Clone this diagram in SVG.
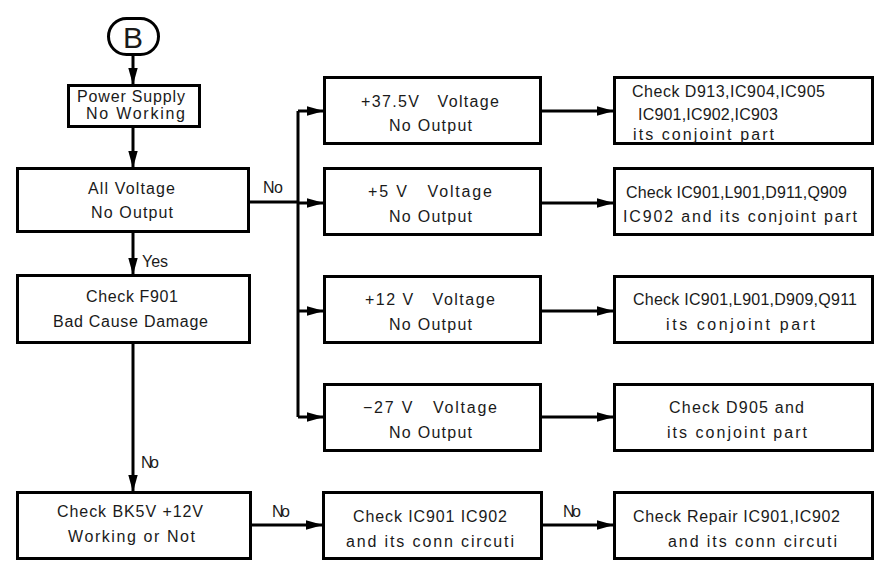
<svg xmlns="http://www.w3.org/2000/svg" width="891" height="563" viewBox="0 0 891 563">
<style>
.bx{fill:#fff;stroke:#000;stroke-width:3}
.ln{fill:none;stroke:#000;stroke-width:3}
.ar{fill:none;stroke:#000;stroke-width:3;marker-end:url(#ah)}
text{font-family:"Liberation Sans",Arial,sans-serif;font-size:16px;fill:#1a1a1a;white-space:pre}
.lg{font-size:30px}
</style>
<defs>
<marker id="ah" markerUnits="userSpaceOnUse" markerWidth="18" markerHeight="10" refX="17" refY="5" orient="auto">
<path d="M0,0.3 L17,5 L0,9.7 z" fill="#000"/>
</marker>
</defs>
<rect width="891" height="563" fill="#fff"/>
<g id="connectors">
<path class="ar" d="M133,55 V85"/>
<path class="ar" d="M133,127 V168"/>
<path class="ar" d="M133,232 V275"/>
<path class="ar" d="M133,343 V492"/>
<path class="ln" d="M249,202 H298"/>
<path class="ln" d="M298,111 V417"/>
<path class="ar" d="M298,111 H324"/>
<path class="ar" d="M298,203 H324"/>
<path class="ar" d="M298,311 H324"/>
<path class="ar" d="M298,417 H324"/>
<path class="ar" d="M541,111 H614"/>
<path class="ar" d="M541,203 H614"/>
<path class="ar" d="M541,311 H614"/>
<path class="ar" d="M541,417 H614"/>
<path class="ar" d="M250,525 H323"/>
<path class="ar" d="M542,525 H614"/>
<text x="142" y="267" textLength="26">Yes</text>
<text x="263" y="193" textLength="20">No</text>
<text x="141" y="468" textLength="18">No</text>
<text x="272" y="517" textLength="18">No</text>
<text x="563" y="517" textLength="18">No</text>
</g>
<g id="nodeB">
<rect class="bx" x="108.5" y="18.5" width="50" height="36" rx="18" ry="18"/>
<text class="lg" x="133" y="48" text-anchor="middle">B</text>
</g>
<g id="power">
<rect class="bx" x="68.5" y="85.5" width="131" height="41"/>
<text x="77" y="102" textLength="108">Power Supply</text>
<text x="86" y="119" textLength="99">No Working</text>
</g>
<g id="allv">
<rect class="bx" x="17.5" y="168.5" width="231" height="63"/>
<text x="88" y="194" textLength="87">All Voltage</text>
<text x="91" y="218" textLength="82">No Output</text>
</g>
<g id="f901">
<rect class="bx" x="17.5" y="275.5" width="232" height="67"/>
<text x="86" y="302" textLength="92">Check F901</text>
<text x="53" y="327" textLength="155">Bad Cause Damage</text>
</g>
<g id="bk5v">
<rect class="bx" x="17.5" y="492.5" width="233" height="66"/>
<text x="57" y="517" textLength="146">Check BK5V +12V</text>
<text x="68" y="542" textLength="127">Working or Not</text>
</g>
<g id="v375">
<rect class="bx" x="324.5" y="77.5" width="216" height="66"/>
<text x="361" y="107" textLength="138">+37.5V   Voltage</text>
<text x="389" y="131" textLength="83">No Output</text>
</g>
<g id="v5">
<rect class="bx" x="324.5" y="168.5" width="216" height="66"/>
<text x="368" y="197" textLength="124">+5 V   Voltage</text>
<text x="389" y="222" textLength="83">No Output</text>
</g>
<g id="v12">
<rect class="bx" x="324.5" y="276.5" width="216" height="66"/>
<text x="365" y="305" textLength="130">+12 V   Voltage</text>
<text x="389" y="330" textLength="83">No Output</text>
</g>
<g id="v27">
<rect class="bx" x="324.5" y="384.5" width="216" height="66"/>
<text x="363" y="413" textLength="134">−27 V   Voltage</text>
<text x="389" y="438" textLength="83">No Output</text>
</g>
<g id="ic901">
<rect class="bx" x="323.5" y="492.5" width="218" height="66"/>
<text x="353" y="522" textLength="154">Check IC901 IC902</text>
<text x="346" y="547" textLength="168">and its conn circuti</text>
</g>
<g id="chk375">
<rect class="bx" x="614.5" y="77.5" width="258" height="66"/>
<text x="632" y="97" textLength="193">Check D913,IC904,IC905</text>
<text x="638" y="120" textLength="140">IC901,IC902,IC903</text>
<text x="633" y="140" textLength="141">its conjoint part</text>
</g>
<g id="chk5">
<rect class="bx" x="614.5" y="168.5" width="258" height="66"/>
<text x="626" y="198" textLength="221">Check IC901,L901,D911,Q909</text>
<text x="623" y="222" textLength="234">IC902 and its conjoint part</text>
</g>
<g id="chk12">
<rect class="bx" x="614.5" y="276.5" width="258" height="66"/>
<text x="633" y="305" textLength="224">Check IC901,L901,D909,Q911</text>
<text x="666" y="330" textLength="149">its conjoint part</text>
</g>
<g id="chk27">
<rect class="bx" x="614.5" y="384.5" width="258" height="66"/>
<text x="669" y="413" textLength="135">Check D905 and</text>
<text x="667" y="438" textLength="140">its conjoint part</text>
</g>
<g id="repair">
<rect class="bx" x="614.5" y="492.5" width="258" height="66"/>
<text x="633" y="522" textLength="207">Check Repair IC901,IC902</text>
<text x="668" y="547" textLength="169">and its conn circuti</text>
</g>
</svg>
